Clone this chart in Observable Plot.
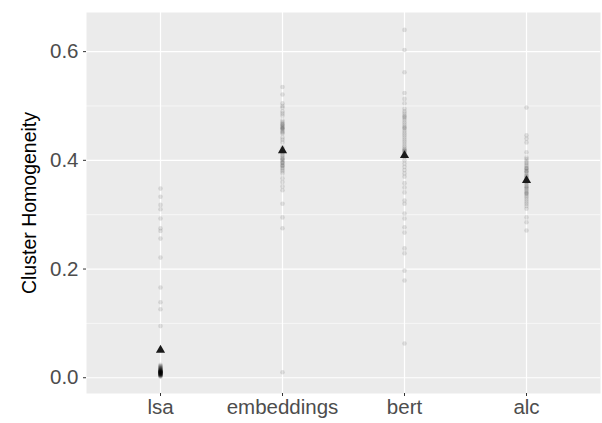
<!DOCTYPE html>
<html>
<head>
<meta charset="utf-8">
<script src="https://cdn.jsdelivr.net/npm/d3@7"></script>
<script src="https://cdn.jsdelivr.net/npm/@observablehq/plot@0.6"></script>
<style>
  html, body { margin: 0; padding: 0; background: #ffffff; }
  #chart { width: 602px; height: 423px; }
  svg { font-family: "Liberation Sans", Arial, Helvetica, sans-serif; }
</style>
</head>
<body>
<div id="chart"></div>
<script>
const methods = ["lsa", "embeddings", "bert", "alc"];

const lsaValues = [
  0.348, 0.333, 0.318, 0.310, 0.293, 0.275, 0.270, 0.256, 0.221, 0.166, 0.139, 0.126, 0.095,
  0.024, 0.022, 0.021, 0.020, 0.019, 0.018, 0.018, 0.017, 0.016, 0.016, 0.015, 0.015, 0.014,
  0.014, 0.013, 0.013, 0.013, 0.012, 0.012, 0.012, 0.011, 0.011, 0.011, 0.010, 0.010, 0.010,
  0.010, 0.009, 0.009, 0.009, 0.009, 0.008, 0.008, 0.008, 0.008, 0.007, 0.007, 0.007, 0.006,
  0.006, 0.006, 0.005, 0.005, 0.005, 0.004, 0.004, 0.003, 0.003, 0.002, 0.012, 0.010, 0.011,
  0.009, 0.013, 0.008
];

const embeddingsValues = [
  0.535, 0.521, 0.505, 0.500, 0.497, 0.490, 0.486, 0.482, 0.473, 0.470, 0.467, 0.464, 0.462,
  0.460, 0.458, 0.456, 0.453, 0.451, 0.449, 0.442, 0.438, 0.433, 0.424, 0.420, 0.416, 0.413,
  0.410, 0.407, 0.404, 0.401, 0.398, 0.395, 0.392, 0.389, 0.386, 0.383, 0.380, 0.376, 0.367,
  0.360, 0.352, 0.345, 0.320, 0.295, 0.275, 0.010, 0.466, 0.459, 0.402, 0.396, 0.390
];

const bertValues = [
  0.640, 0.603, 0.562, 0.524, 0.513, 0.505, 0.495, 0.490, 0.486, 0.482, 0.478, 0.474, 0.470,
  0.466, 0.462, 0.458, 0.454, 0.450, 0.446, 0.442, 0.438, 0.434, 0.430, 0.426, 0.422, 0.418,
  0.415, 0.413, 0.406, 0.400, 0.394, 0.388, 0.382, 0.376, 0.370, 0.358, 0.350, 0.341, 0.326,
  0.320, 0.302, 0.293, 0.277, 0.267, 0.238, 0.229, 0.197, 0.179, 0.063, 0.480, 0.460, 0.420,
  0.417
];

const alcValues = [
  0.497, 0.446, 0.440, 0.433, 0.415, 0.405, 0.402, 0.398, 0.395, 0.392, 0.389, 0.386, 0.383,
  0.380, 0.377, 0.374, 0.371, 0.368, 0.365, 0.362, 0.359, 0.356, 0.353, 0.350, 0.347, 0.344,
  0.341, 0.338, 0.335, 0.332, 0.328, 0.324, 0.320, 0.316, 0.311, 0.295, 0.286, 0.271, 0.380,
  0.370, 0.360, 0.350, 0.340, 0.385, 0.365
];

const meanValues = [0.051, 0.418, 0.409, 0.363];

const yTicks = [0, 0.2, 0.4, 0.6];
const yMinor = [0.1, 0.3, 0.5];

const points = [
  ...lsaValues.map(v => ({method: methods[0], value: v})),
  ...embeddingsValues.map(v => ({method: methods[1], value: v})),
  ...bertValues.map(v => ({method: methods[2], value: v})),
  ...alcValues.map(v => ({method: methods[3], value: v}))
];
const means = methods.map((m, i) => ({method: m, value: meanValues[i]}));

const chart = Plot.plot({
  width: 602,
  height: 423,
  marginLeft: 86,
  marginRight: 2,
  marginTop: 12,
  marginBottom: 30,
  style: {fontFamily: '"Liberation Sans", Arial, Helvetica, sans-serif', background: "#ffffff"},
  x: {type: "point", domain: methods, padding: 0.6, label: null},
  y: {domain: [-0.029, 0.672], label: null},
  marks: [
    Plot.frame({fill: "#ebebeb", stroke: null}),
    Plot.ruleY(yMinor, {stroke: "#ffffff", strokeWidth: 0.6}),
    Plot.ruleY(yTicks, {stroke: "#ffffff", strokeWidth: 1.2}),
    Plot.ruleX(methods, {stroke: "#ffffff", strokeWidth: 1.2}),
    Plot.axisY({ticks: yTicks, tickFormat: d3.format(".1f"), tickSize: 3, tickPadding: 5,
      fontSize: 20.5, color: "#4d4d4d", stroke: "#333333", label: null}),
    Plot.axisX({tickSize: 3, tickPadding: 3, fontSize: 20.5, color: "#4d4d4d", stroke: "#333333", label: null}),
    Plot.text(["Cluster Homogeneity"], {frameAnchor: "left", dx: -57, rotate: -90, textAnchor: "middle",
      fontSize: 19.5, fill: "#000000"}),
    Plot.dot(points, {x: "method", y: "value", r: 2.3, fill: "#000000", fillOpacity: 0.11, stroke: null}),
    Plot.dot(means, {x: "method", y: "value", symbol: "triangle", r: 3.4, fill: "#1a1a1a", stroke: null})
  ]
});
document.getElementById("chart").appendChild(chart);
</script>
</body>
</html>
